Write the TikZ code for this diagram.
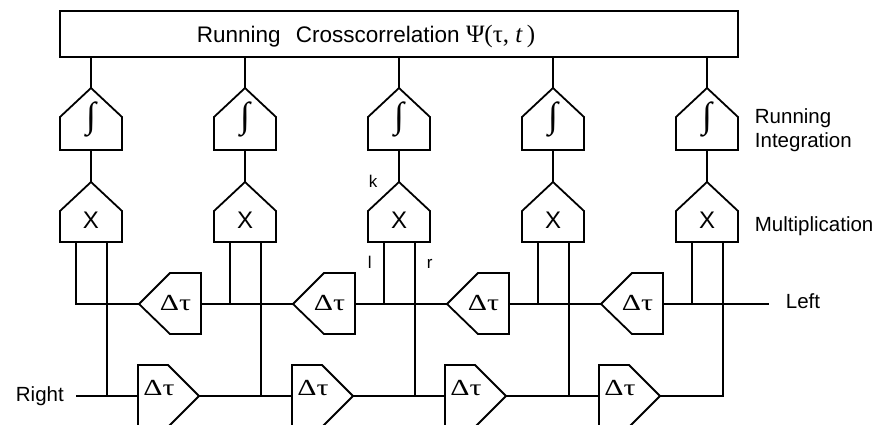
\documentclass[tikz,border=0pt]{standalone}
\usepackage{fontspec}
\setmainfont{Liberation Sans}
\newfontfamily\serifgr{Liberation Serif}
\usetikzlibrary{calc}
\begin{document}
\begin{tikzpicture}[x=1pt,y=-1pt,line width=1.8pt,
  lab/.style={font=\fontsize{20.5}{24}\selectfont,inner sep=0pt,anchor=base west},
  small/.style={font=\fontsize{17}{20}\selectfont,inner sep=0pt,anchor=base west},
  dtau/.style={font=\serifgr\fontsize{23}{26}\selectfont,inner sep=0pt,anchor=base west},
  integ/.style={font=\serifgr\fontsize{36}{40}\selectfont,inner sep=0pt},
  xmark/.style={font=\fontsize{24}{28}\selectfont,inner sep=0pt,anchor=base},
  intblock/.pic={
    \draw (-31,31) -- (-31,-2) -- (0,-31) -- (31,-2) -- (31,31) -- cycle;
    \coordinate (-top) at (0,-31);
    \coordinate (-bot) at (0,31);
    \node[integ] (-txt) at (0,0) {∫};
  },
  mulblock/.pic={
    \draw (-31,30) -- (-31,-1) -- (0,-30) -- (31,-1) -- (31,30) -- cycle;
    \coordinate (-top) at (0,-30);
    \coordinate (-l) at (-15,30);
    \coordinate (-r) at (16,30);
    \node[xmark] (-txt) at (0,16) {X};
  },
  ldelay/.pic={
    \draw (-31,0) -- (0,-31) -- (31,-31) -- (31,30) -- (0,30) -- cycle;
    \coordinate (-w) at (-31,0);
    \coordinate (-e) at (31,0);
    \node[dtau] (-txt) at (-11,6) {\scalebox{1.3}[1]{Δτ}};
  },
  rdelay/.pic={
    \draw (-30.5,-31) -- (-0.5,-31) -- (30.5,0) -- (-0.5,31) -- (-30.5,31) -- cycle;
    \coordinate (-w) at (-30.5,0);
    \coordinate (-e) at (30.5,0);
    \node[dtau] (-txt) at (-26,-1) {\scalebox{1.3}[1]{Δτ}};
  }
]
\useasboundingbox (0,0) rectangle (880,424);
\clip (0,0) rectangle (880,424);
% top box
\node[draw,minimum width=678pt,minimum height=46pt,inner sep=0pt,outer sep=0pt] (top) at (399,34) {};
\node[font=\fontsize{22.5}{26}\selectfont,inner sep=0pt,anchor=base west] (title) at (196,42)
  {Running\hspace{9pt} Crosscorrelation {\serifgr\fontsize{25}{28}\selectfont Ψ(τ, \textit{t}\,)}};
% columns
\foreach \i/\c in {1/91,2/245,3/399,4/553,5/707}{
  \pic (I\i) at (\c,119) {intblock};
  \pic (M\i) at (\c,212) {mulblock};
  \draw (top.south -| I\i-top) -- (I\i-top);
  \draw (I\i-bot) -- (M\i-top);
}
% delays
\foreach \i/\x in {1/170,2/324,3/478,4/632}{
  \pic (U\i) at (\x,304) {ldelay};
}
\foreach \i/\x in {1/168.5,2/322.5,3/475.5,4/629.5}{
  \pic (D\i) at (\x,396) {rdelay};
}
\coordinate (Rin) at (76,396);
\coordinate (Lin) at (769,304);
% upper delay line (leftward)
\draw (M1-l) |- (U1-w);
\draw (U1-e) -- (U2-w);
\draw (U2-e) -- (U3-w);
\draw (U3-e) -- (U4-w);
\draw (U4-e) -- (Lin);
\foreach \i in {2,3,4,5}{ \draw (M\i-l) -- (M\i-l |- U1-w); }
% lower delay line (rightward)
\draw (Rin) -- (D1-w);
\draw (D1-e) -- (D2-w);
\draw (D2-e) -- (D3-w);
\draw (D3-e) -- (D4-w);
\draw (M5-r) |- (D4-e);
\foreach \i in {1,2,3,4}{ \draw (M\i-r) -- (M\i-r |- D1-w); }
% labels
\node[lab] (tRight) at (15,401) {Right};
\node[lab] (tLeft) at (785,308) {Left};
\node[lab] (tRun) at (754,123) {Running};
\node[lab] (tInt) at (754,147) {Integration};
\node[lab] (tMul) at (754,231) {Multiplication};
\node[small] (tk) at (368,187) {k};
\node[small] (tl) at (367,268) {l};
\node[small] (tr) at (426,268) {r};
\end{tikzpicture}
\end{document}
